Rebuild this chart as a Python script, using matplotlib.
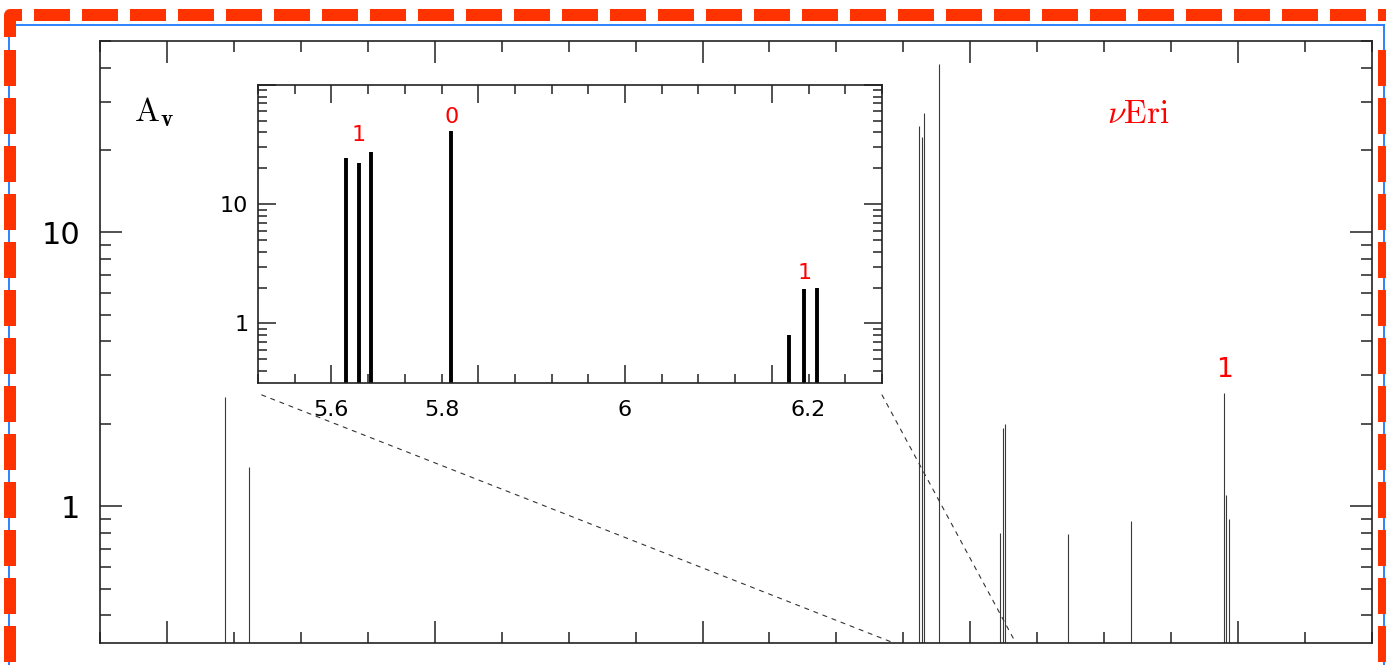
import matplotlib

matplotlib.use("Agg")
import matplotlib.pyplot as plt
import numpy as np
from matplotlib.lines import Line2D
from matplotlib.patches import ConnectionPatch
from matplotlib.ticker import LogLocator, MultipleLocator, FixedLocator, FuncFormatter, NullFormatter
from matplotlib.transforms import blended_transform_factory

plt.rcParams["font.family"] = ["DejaVu Sans"]
plt.rcParams["mathtext.fontset"] = "cm"
plt.rcParams["lines.scale_dashes"] = False

# nu Eri frequencies (c/d) and amplitudes (mmag)
freqs = [0.4328, 0.6144, 5.6200, 5.6372, 5.6538, 5.7633, 6.2236,
         6.2440, 6.2620, 6.7322, 7.2003, 7.8982, 7.9126, 7.9303]
amps = [2.5, 1.39, 24.5, 22.3, 27.3, 41.2, 0.80,
        1.93, 2.0, 0.79, 0.885, 2.6, 1.10, 0.90]

# mode degree labels
main_mode_freq = [7.8982]
main_mode_y = [3.15]
main_mode_txt = ["1"]
zoom_mode_freq = [5.6372, 5.7633, 6.2440]
zoom_mode_y = [38.0, 54.0, 2.67]
zoom_mode_txt = ["1", "0", "1"]

zoom_tick_pos = [5.6, 5.75, 6.0, 6.25]
zoom_tick_txt = ["5.6", "5.8", "6", "6.2"]

W, H = 1386, 665
ylo = 10 ** -0.5


def log_label(v, _):
    return f"{v:g}" if v < 50 else ""


fig = plt.figure(figsize=(W / 100, H / 100), dpi=100)

# main spectrum
ax = fig.add_axes([100 / W, (H - 643) / H, 1272 / W, 602 / H])
ax.vlines(freqs, 1e-3, amps, color="#3a3a3a", lw=0.8)
ax.set_yscale("log")
ax.set_xlim(-0.5, 9.0)
ax.set_ylim(ylo, 50)
ax.xaxis.set_major_locator(MultipleLocator(2))
ax.xaxis.set_minor_locator(MultipleLocator(0.5))
ax.yaxis.set_major_locator(LogLocator(base=10))
ax.yaxis.set_minor_locator(LogLocator(base=10, subs=np.arange(2, 10)))
ax.yaxis.set_major_formatter(FuncFormatter(log_label))
ax.yaxis.set_minor_formatter(NullFormatter())
ax.tick_params(which="both", direction="in", top=True, right=True,
               labelbottom=False, color="#222222", width=1.1)
ax.tick_params(which="major", length=15.8, labelsize=22, pad=14)
ax.tick_params(which="minor", length=7.9)
for s in ax.spines.values():
    s.set_linewidth(1.2)
    s.set_color("#222222")

ax.text(0.027, 0.882, r"$\mathrm{A}_{\mathbf{v}}$", transform=ax.transAxes,
        fontsize=24, ha="left", va="center")
ax.text(0.792, 0.880, r"$\nu\mathrm{Eri}$", transform=ax.transAxes, color="red",
        fontsize=24, ha="left", va="center")
for f, y, t in zip(main_mode_freq, main_mode_y, main_mode_txt):
    ax.text(f, y, t, color="red", fontsize=19, ha="center", va="center")

# zoom on the 5.5 - 6.35 c/d region
axins = fig.add_axes([258 / W, (H - 383) / H, 624 / W, 298 / H])
sel = [(f, a) for f, a in zip(freqs, amps) if 5.5 <= f <= 6.35]
axins.vlines([f for f, _ in sel], 1e-3, [a for _, a in sel], color="black", lw=2.8)
axins.set_yscale("log")
axins.set_xlim(5.5, 6.35)
axins.set_ylim(ylo, 100)
axins.xaxis.set_major_locator(FixedLocator([5.6, 5.8, 6.0, 6.2]))
axins.xaxis.set_minor_locator(MultipleLocator(0.05))
axins.yaxis.set_major_locator(LogLocator(base=10))
axins.yaxis.set_minor_locator(LogLocator(base=10, subs=np.arange(2, 10)))
axins.yaxis.set_major_formatter(FuncFormatter(log_label))
axins.yaxis.set_minor_formatter(NullFormatter())
axins.tick_params(which="both", direction="in", top=True, right=True,
                  labelbottom=False, color="#222222", width=1.1)
axins.tick_params(which="major", length=13, labelsize=16, pad=7)
axins.tick_params(which="minor", length=6.5)
for s in axins.spines.values():
    s.set_linewidth(1.2)
    s.set_color("#222222")

tr = blended_transform_factory(axins.transData, axins.transAxes)
for x, t in zip(zoom_tick_pos, zoom_tick_txt):
    axins.text(x, -0.09, t, transform=tr, fontsize=16, ha="center", va="center")
for f, y, t in zip(zoom_mode_freq, zoom_mode_y, zoom_mode_txt):
    axins.text(f, y, t, color="red", fontsize=16, ha="center", va="center")

# dotted guides from the inset down to the main axis
for xa, xb in [(0.006, 5.43), (1.0, 6.34)]:
    con = ConnectionPatch(xyA=(xa, -0.04), coordsA=axins.transAxes,
                          xyB=(xb, ylo), coordsB=ax.transData,
                          linestyle=(0, (3, 4)), lw=0.8, color="#333333")
    con.set_zorder(0.5)
    fig.add_artist(con)


# frame around the figure, in pixel units
def px(xs, ys):
    return [x / W for x in xs], [1 - y / H for y in ys]


blue = "#1e78ff"
red = "#ff3300"
for xs, ys in [([9, 1384], [25, 25]), ([9, 9], [25, 700]), ([1384, 1384], [25, 700])]:
    fx, fy = px(xs, ys)
    fig.add_artist(Line2D(fx, fy, transform=fig.transFigure, color=blue, lw=1.3))

dash = (0, (36 * 0.72, 12 * 0.72))
lw_red = 12 * 0.72
fx, fy = px([34, 1400], [15, 15])
fig.add_artist(Line2D(fx, fy, transform=fig.transFigure, color=red, lw=lw_red,
                      linestyle=dash, dash_capstyle="butt"))
for x in [10, 1384]:
    fx, fy = px([x, x], [50, 700])
    fig.add_artist(Line2D(fx, fy, transform=fig.transFigure, color=red, lw=lw_red,
                          linestyle=dash, dash_capstyle="butt"))
fx, fy = px([10, 10, 22], [37, 15, 15])
fig.add_artist(Line2D(fx, fy, transform=fig.transFigure, color=red, lw=lw_red,
                      solid_joinstyle="round", solid_capstyle="butt"))

fig.savefig("out.png", dpi=100)
